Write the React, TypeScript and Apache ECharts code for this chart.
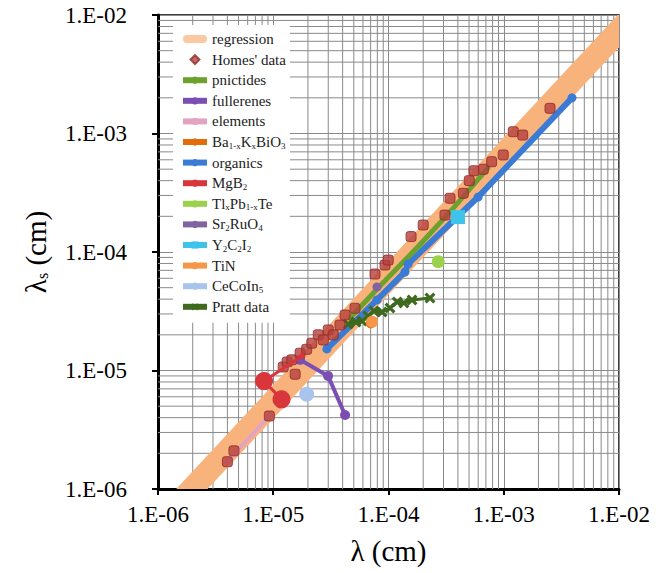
import React, { useEffect, useRef } from "react";
import * as echarts from "echarts";

// ---------- data ----------
const xTickLabels = ["1.E-06", "1.E-05", "1.E-04", "1.E-03", "1.E-02"];
const yTickLabels = ["1.E-06", "1.E-05", "1.E-04", "1.E-03", "1.E-02"];
const decades = [1e-6, 1e-5, 1e-4, 1e-3];
const minorSteps = [2, 3, 4, 5, 6, 7, 8, 9];

// regression centre line: start and end points [λ, λs]
const regressionX = [3.2e-7, 3.2e-2];
const regressionY = [1.5e-7, 2.5e-2];

const homesX = [4.0e-6, 4.56e-6, 9.25e-6, 1.55e-5, 1.22e-5, 1.32e-5, 1.45e-5, 1.71e-5, 1.95e-5, 2.16e-5, 2.46e-5, 2.72e-5, 3.0e-5, 3.32e-5, 3.79e-5, 4.2e-5, 5.12e-5, 7.64e-5, 9.33e-5, 9.95e-5, 1.57e-4, 2.0e-4, 3.09e-4, 3.42e-4, 4.46e-4, 5.02e-4, 5.52e-4, 6.65e-4, 7.85e-4, 9.9e-4, 1.21e-3, 1.46e-3, 2.52e-3];
const homesY = [1.7e-6, 2.1e-6, 4.13e-6, 9.3e-6, 1.07e-5, 1.18e-5, 1.23e-5, 1.4e-5, 1.51e-5, 1.7e-5, 2.0e-5, 1.81e-5, 2.2e-5, 2.0e-5, 2.42e-5, 2.94e-5, 3.35e-5, 6.52e-5, 7.76e-5, 8.55e-5, 1.35e-4, 1.69e-4, 2.05e-4, 2.84e-4, 3.13e-4, 4.0e-4, 4.85e-4, 4.99e-4, 5.78e-4, 6.59e-4, 1.035e-3, 9.7e-4, 1.63e-3];

const pnictidesX = [4.63e-5, 8.43e-5, 1.87e-4, 3.42e-4, 7.3e-4];
const pnictidesY = [2.77e-5, 5.16e-5, 1.15e-4, 2.18e-4, 5.12e-4];

const fullerenesX = [1.71e-5, 2.99e-5, 4.2e-5];
const fullerenesY = [1.23e-5, 9.0e-6, 4.21e-6];

const elementsX = [3.97e-6, 9.38e-6];
const elementsY = [1.69e-6, 4.21e-6];

const bkboX = [7.0e-5];
const bkboY = [2.5e-5];

const organicsX = [2.92e-5, 7.94e-5, 1.39e-4, 1.48e-4, 5.99e-4, 3.91e-3];
const organicsY = [1.52e-5, 3.94e-5, 6.78e-5, 7.93e-5, 2.91e-4, 2.0e-3];

const mgb2X = [1.18e-5, 8.32e-6, 1.77e-5];
const mgb2Y = [5.71e-6, 8.14e-6, 1.32e-5];
const mgb2Sizes = [18, 18, 6];

const tlpbteX = [2.7e-4];
const tlpbteY = [8.28e-5];

const sr2ruo4X = [7.94e-5];
const sr2ruo4Y = [5.07e-5];

const y2c2i2X = [4.01e-4];
const y2c2i2Y = [1.97e-4];

const tinX = [7.2e-5];
const tinY = [2.58e-5];

const cecoin5X = [1.95e-5];
const cecoin5Y = [6.3e-6];

const prattX = [4.46e-5, 5.22e-5, 5.89e-5, 6.64e-5, 7.48e-5, 8.79e-5, 1.03e-4, 1.19e-4, 1.36e-4, 1.6e-4, 2.29e-4];
const prattY = [2.47e-5, 2.56e-5, 2.62e-5, 2.88e-5, 3.18e-5, 3.12e-5, 3.37e-5, 3.79e-5, 3.72e-5, 3.94e-5, 4.09e-5];

const seriesNames = [
  "regression",
  "Homes' data",
  "pnictides",
  "fullerenes",
  "elements",
  "Ba1-xKxBiO3",
  "organics",
  "MgB2",
  "TlxPb1-xTe",
  "Sr2RuO4",
  "Y2C2I2",
  "TiN",
  "CeCoIn5",
  "Pratt data",
];

const legendRich: Record<string, string> = {
  "Ba1-xKxBiO3": "Ba{s|1-x}K{s|x}BiO{s|3}",
  MgB2: "MgB{s|2}",
  "TlxPb1-xTe": "Tl{s|x}Pb{s|1-x}Te",
  Sr2RuO4: "Sr{s|2}RuO{s|4}",
  Y2C2I2: "Y{s|2}C{s|2}I{s|2}",
  CeCoIn5: "CeCoIn{s|5}",
};

const zip = (xs: number[], ys: number[]) => xs.map((x, i) => [x, ys[i]]);

const SERIF = "Liberation Serif";
const GRID_COLOR = "#8a8a8a";
const BAND_COLOR = "#F8B37C";
const BAND_HALF_WIDTH = 11.5;
const crossPath =
  "path://M0,2 L2,0 L5,3 L8,0 L10,2 L7,5 L10,8 L8,10 L5,7 L2,10 L0,8 L3,5 Z";
const diamondPath = "path://M5,0 L10,5 L5,10 L0,5 Z";
const blobPath = "path://M5,0 L25,0 A5,5 0 0 1 25,10 L5,10 A5,5 0 0 1 5,0 Z";

export default function App() {
  const ref = useRef<HTMLDivElement>(null);
  useEffect(() => {
    if (!ref.current) return;
    const chart = echarts.init(ref.current, undefined, { renderer: "svg" });

    // minor grid lines (2..9 within each decade), drawn through the axes
    const vLines: any[] = [];
    const hLines: any[] = [];
    decades.forEach((d) =>
      minorSteps.forEach((m) => {
        const v = d * m;
        vLines.push([v, 1e-6], [v, 1e-2], null);
        hLines.push([1e-6, v], [1e-2, v], null);
      })
    );

    const lineSeries = (
      name: string,
      xs: number[],
      ys: number[],
      color: string,
      width: number,
      symbol: string,
      size: number | ((v: any, p: any) => number),
      z = 3
    ) => ({
      name,
      type: "line",
      data: zip(xs, ys),
      z,
      symbol,
      symbolSize: size,
      showSymbol: true,
      lineStyle: { color, width },
      itemStyle: { color, opacity: 1 },
      emphasis: { disabled: true },
      clip: true,
    });

    const gridSeries = (name: string, data: any[]) => ({
      name,
      type: "line",
      data,
      symbol: "none",
      silent: true,
      z: 1,
      connectNulls: false,
      lineStyle: { color: GRID_COLOR, width: 1 },
      emphasis: { disabled: true },
    });

    const option: any = {
      animation: false,
      backgroundColor: "#fff",
      grid: {
        left: 158,
        right: 37,
        top: 15,
        bottom: 84,
        show: true,
        borderColor: "#000",
        borderWidth: 1.5,
        backgroundColor: "transparent",
      },
      xAxis: {
        type: "log",
        logBase: 10,
        min: 1e-6,
        max: 1e-2,
        name: "λ (cm)",
        nameLocation: "middle",
        nameGap: 47,
        nameTextStyle: { fontFamily: SERIF, fontSize: 29, color: "#000" },
        axisLine: { show: true, onZero: false, lineStyle: { color: "#000", width: 3 } },
        axisTick: { show: true, length: 6, lineStyle: { color: "#000", width: 2 } },
        axisLabel: {
          fontFamily: SERIF,
          fontSize: 23,
          color: "#000",
          margin: 14,
          formatter: (_v: number, i: number) => xTickLabels[i] ?? "",
        },
        splitLine: { show: true, lineStyle: { color: GRID_COLOR, width: 1 } },
      },
      yAxis: {
        type: "log",
        logBase: 10,
        min: 1e-6,
        max: 1e-2,
        name: "λ{s|s} (cm)",
        nameLocation: "middle",
        nameGap: 108,
        nameTextStyle: {
          fontFamily: SERIF,
          fontSize: 29,
          color: "#000",
          rich: { s: { fontFamily: SERIF, fontSize: 16, color: "#000", verticalAlign: "bottom", padding: [11, 0, 0, 0] } },
        },
        axisLine: { show: true, onZero: false, lineStyle: { color: "#000", width: 3 } },
        axisTick: { show: true, length: 6, lineStyle: { color: "#000", width: 2 } },
        axisLabel: {
          fontFamily: SERIF,
          fontSize: 23,
          color: "#000",
          margin: 31,
          formatter: (_v: number, i: number) => yTickLabels[i] ?? "",
        },
        splitLine: { show: true, lineStyle: { color: GRID_COLOR, width: 1 } },
      },
      legend: {
        orient: "vertical",
        left: 173,
        top: 25,
        padding: [6, 4, 8, 7],
        backgroundColor: "#fff",
        itemWidth: 24,
        itemHeight: 9,
        itemGap: 4.6,
        selectedMode: false,
        lineStyle: { width: 6 },
        data: seriesNames.map((n) => {
          if (n === "Homes' data") return { name: n, icon: diamondPath, itemStyle: { color: "#B5403D" } };
          if (n === "regression") return { name: n, icon: blobPath, itemStyle: { color: "#FAC9A2" } };
          return { name: n };
        }),
        formatter: (name: string) => legendRich[name] ?? name,
        textStyle: {
          fontFamily: SERIF,
          fontSize: 15,
          color: "#222",
          lineHeight: 16,
          rich: {
            s: { fontFamily: SERIF, fontSize: 9, color: "#222", verticalAlign: "bottom", lineHeight: 16, padding: [6, 0, 0, 0] },
          },
        },
      },
      series: [
        gridSeries("_vgrid", vLines),
        gridSeries("_hgrid", hLines),
        {
          name: "regression",
          type: "custom",
          z: 2,
          clip: true,
          silent: true,
          itemStyle: { color: BAND_COLOR },
          encode: { x: [0, 2], y: [1, 3] },
          data: [[regressionX[0], regressionY[0], regressionX[1], regressionY[1]]],
          renderItem: (_params: any, api: any) => {
            const p1 = api.coord([api.value(0), api.value(1)]);
            const p2 = api.coord([api.value(2), api.value(3)]);
            const dx = p2[0] - p1[0];
            const dy = p2[1] - p1[1];
            const len = Math.sqrt(dx * dx + dy * dy) || 1;
            const nx = (-dy / len) * BAND_HALF_WIDTH;
            const ny = (dx / len) * BAND_HALF_WIDTH;
            return {
              type: "polygon",
              shape: {
                points: [
                  [p1[0] + nx, p1[1] + ny],
                  [p2[0] + nx, p2[1] + ny],
                  [p2[0] - nx, p2[1] - ny],
                  [p1[0] - nx, p1[1] - ny],
                ],
              },
              style: { fill: BAND_COLOR },
            };
          },
        },
        lineSeries("elements", elementsX, elementsY, "#E3A3C2", 4, "circle", 6),
        lineSeries("organics", organicsX, organicsY, "#3A7BD5", 6, "circle", 9),
        lineSeries("pnictides", pnictidesX, pnictidesY, "#6DA12E", 5, "circle", 5),
        lineSeries("fullerenes", fullerenesX, fullerenesY, "#7B4FB2", 4, "circle", 10),
        lineSeries("Pratt data", prattX, prattY, "#3D6A1E", 3, crossPath, 11),
        {
          name: "Homes' data",
          type: "scatter",
          data: zip(homesX, homesY),
          z: 4,
          symbol: "roundRect",
          symbolSize: 10,
          itemStyle: { color: "#B5403D", borderColor: "#8E2B28", borderWidth: 1 },
        },
        lineSeries("MgB2", mgb2X, mgb2Y, "#D9363C", 3, "circle", (_v: any, p: any) => mgb2Sizes[p.dataIndex], 5),
        lineSeries("Ba1-xKxBiO3", bkboX, bkboY, "#E46C0A", 3, "circle", 10, 5),
        lineSeries("TiN", tinX, tinY, "#F79646", 3, "circle", 12, 5),
        lineSeries("TlxPb1-xTe", tlpbteX, tlpbteY, "#9BD14B", 3, "circle", 13, 5),
        lineSeries("Sr2RuO4", sr2ruo4X, sr2ruo4Y, "#8064A2", 3, "circle", 9, 5),
        lineSeries("Y2C2I2", y2c2i2X, y2c2i2Y, "#3EC4EA", 3, "rect", 14, 5),
        lineSeries("CeCoIn5", cecoin5X, cecoin5Y, "#A9C4EC", 3, "circle", 15, 5),
      ],
    };

    chart.setOption(option);
    return () => chart.dispose();
  }, []);

  return (
    <div
      ref={ref}
      style={{ position: "fixed", left: 0, top: 0, width: 656, height: 573, background: "#fff" }}
    />
  );
}
